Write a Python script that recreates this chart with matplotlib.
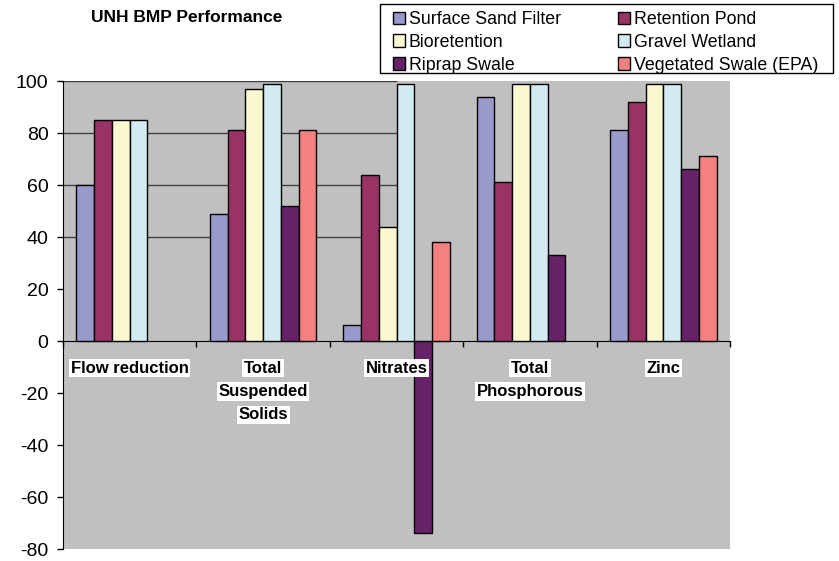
import numpy as np
import matplotlib.pyplot as plt
from matplotlib.patches import Rectangle

plt.rcParams["font.family"] = ["Liberation Sans", "DejaVu Sans"]
plt.rcParams["axes.unicode_minus"] = False

categories = ["Flow reduction", "Total\nSuspended\nSolids", "Nitrates", "Total\nPhosphorous", "Zinc"]
series_names = ["Surface Sand Filter", "Retention Pond", "Bioretention",
                "Gravel Wetland", "Riprap Swale", "Vegetated Swale (EPA)"]

# nan = no bar in that group
surface_sand = [60, 49, 6, 94, 81]
retention_pond = [85, 81, 64, 61, 92]
bioretention = [85, 97, 44, 99, 99]
gravel_wetland = [85, 99, 99, 99, 99]
riprap_swale = [np.nan, 52, -74, 33, 66]
vegetated_swale = [np.nan, 81, 38, np.nan, 71]

series = [surface_sand, retention_pond, bioretention, gravel_wetland, riprap_swale, vegetated_swale]
colors = ["#9999CC", "#993366", "#FAF8D0", "#D2EBF2", "#662266", "#F48080"]

W, H = 839, 561
fig = plt.figure(figsize=(W / 100, H / 100), dpi=100)
ax = fig.add_axes([63 / W, 1 - 549 / H, (730 - 63) / W, (549 - 81) / H])
ax.set_facecolor("#C0C0C0")

n = len(categories)
bw = 0.8 / 6
x0 = np.arange(n)
handles = []
for k, (vals, col, name) in enumerate(zip(series, colors, series_names)):
    b = ax.bar(x0 + 0.1 + k * bw, vals, width=bw, align="edge", color=col,
               edgecolor="black", linewidth=1.0, label=name, zorder=3)
    handles.append(b)

# gridlines only run part way across in the original
for g in [40, 60, 80, 100]:
    ax.hlines(g, 0, 2.5, color="#404040", linewidth=1.0, zorder=1)

ax.set_xlim(0, n)
ax.set_ylim(-80, 100)
ax.set_yticks(np.arange(-80, 101, 20))
ax.tick_params(axis="y", labelsize=14, length=4.5, width=1, direction="out", pad=6)
ax.set_xticks(np.arange(n + 1))
ax.set_xticklabels([])
ax.tick_params(axis="x", length=4, width=1, direction="out")
ax.spines["bottom"].set_position(("data", 0))
for s in ["top", "right"]:
    ax.spines[s].set_visible(False)

# category labels, each line in its own white box
for i, lab in enumerate(categories):
    for j, line in enumerate(lab.split("\n")):
        ax.annotate(line, xy=(i + 0.5, 0), xytext=(0, -19.5 - j * 16.8),
                    textcoords="offset points", ha="center", va="center",
                    fontsize=12, fontweight="bold",
                    bbox=dict(facecolor="white", edgecolor="none", pad=1.2), zorder=4)

fig.text(187 / W, 1 - 17 / H, "UNH BMP Performance", ha="center", va="center",
         fontsize=12.5, fontweight="bold")

# legend filled row by row
order = [0, 2, 4, 1, 3, 5]
leg = fig.legend([handles[i] for i in order], [series_names[i] for i in order],
                 loc="upper left", bbox_to_anchor=(393 / W, 1 - 11 / H),
                 ncol=2, fontsize=12.8, frameon=False,
                 handlelength=0.7, handleheight=0.7, handletextpad=0.2,
                 borderaxespad=0, borderpad=0, labelspacing=0.33, columnspacing=3.2)
fig.patches.append(Rectangle((380 / W, 1 - 73 / H), 453 / W, 69 / H, transform=fig.transFigure,
                             facecolor="none", edgecolor="black", linewidth=1.0))

fig.savefig("out.png", dpi=100)
